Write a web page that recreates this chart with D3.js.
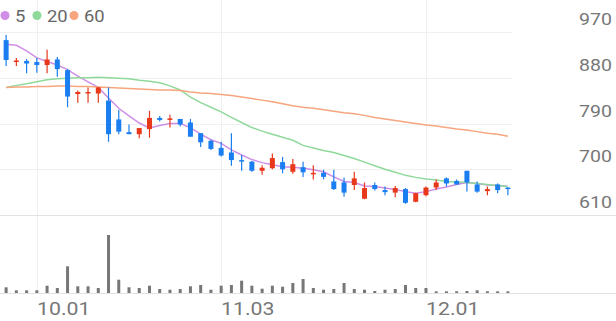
<!DOCTYPE html>
<html>
<head>
<meta charset="utf-8">
<script src="https://cdn.jsdelivr.net/npm/d3@7"></script>
<style>
  body { margin: 0; background: #fff; }
  svg { display: block; font-family: Roboto, sans-serif; }
</style>
</head>
<body>
<div id="chart"></div>
<script>
// trading days shown on the chart
var dates = ["09.26","09.29","09.30","10.01","10.02","10.10","10.13","10.14","10.15","10.16",
  "10.17","10.20","10.21","10.22","10.23","10.24","10.27","10.28","10.29","10.30",
  "10.31","11.03","11.04","11.05","11.06","11.07","11.10","11.11","11.12","11.13",
  "11.14","11.17","11.18","11.19","11.20","11.21","11.24","11.25","11.26","11.27",
  "11.28","12.01","12.02","12.03","12.04","12.05","12.08","12.09","12.10","12.11"];
var open  = [954,911,913,911,905,916,895,848,851,849,835,798,773,769,779,801,799,799,792,771,
  756,742,733,718,715,697,702,714,695,704,690,693,676,674,669,642,669,659,654,661,
  636,649,664,682,677,697,670,657,670,664];
var high  = [964,919,917,919,935,921,897,855,861,862,861,817,788,781,815,805,807,799,799,771,
  758,754,771,728,716,708,731,724,720,715,708,699,699,684,695,674,674,666,667,663,
  654,666,680,684,680,697,676,666,672,664];
var low   = [903,903,889,890,889,882,822,831,831,831,754,769,769,761,762,794,782,784,764,744,
  738,725,707,697,695,689,700,692,691,685,680,680,659,646,659,641,658,649,645,632,
  635,647,659,666,670,656,654,649,653,649];
var close = [915,914,908,905,916,897,843,852,852,861,769,774,769,781,801,797,800,788,764,753,
  740,727,718,715,697,703,722,700,710,694,693,685,661,654,682,663,661,655,663,634,
  653,664,674,672,670,674,656,661,659,661];
var volume = [57,27,27,27,73,50,267,67,67,50,580,133,57,50,73,40,33,40,67,80,
  33,73,80,123,73,43,73,63,100,140,50,33,40,100,40,33,20,33,40,80,
  50,50,17,17,17,20,27,17,17,17];
var ma5  = [946,944,933,919,912,905,896,883,872,861,840,820,805,791,781,786,790,790,782,769,
  758,751,738,728,719,713,709,705,704,702,699,695,685,676,674,667,666,663,660,656,
  653,656,661,665,670,674,672,669,668,666];
var ma20 = [861,865,868,872,876,878,879,880,880,881,880,879,878,875,873,870,864,856,842,831,
  822,813,802,792,782,775,769,763,757,747,742,737,733,727,721,714,707,700,694,688,
  684,681,679,676,675,674,672,670,668,666];
var ma60 = [861,862,862,863,863,864,864,863,863,862,861,860,859,858,857,856,856,855,852,850,
  849,847,845,842,839,836,833,829,825,822,820,817,814,811,809,806,802,799,796,793,
  790,787,785,782,779,777,774,771,769,765];
var priceTicks = [970,880,790,700,610];
var dateTicks = ["10.01","11.03","12.01"];
var maNames = ["5","20","60"];
var maColors = ["#cf8fe6","#8fd99b","#f7a57e"];

var W = 616, H = 321;
var plotRight = 512;
var upColor = "#e8381b", downColor = "#1a7ef0";

var svg = d3.select("#chart").append("svg")
  .attr("width", W).attr("height", H);

var x = d3.scaleBand().domain(d3.range(dates.length)).range([1, plotRight + 1]);
var cx = function(i) { return x(i) + x.bandwidth() / 2; };
var y = d3.scaleLinear().domain([610, 970]).range([215, 32]);
var yv = d3.scaleLinear().domain([0, 750]).range([293, 218]);

// stretched text helper, the reference font is a bit wide
function label(g, tx, ty, str, size, anchor, color) {
  g.append("g")
    .attr("transform", "translate(" + tx + "," + ty + ") scale(1.15,1)")
    .append("text")
    .attr("text-anchor", anchor)
    .attr("font-size", size)
    .attr("fill", color)
    .text(str);
}

// grid
var grid = svg.append("g");
priceTicks.slice(0, 4).forEach(function(p) {
  grid.append("line")
    .attr("x1", 0).attr("x2", plotRight)
    .attr("y1", Math.round(y(p)) + 0.5).attr("y2", Math.round(y(p)) + 0.5)
    .attr("stroke", "#f0f0f0");
});
dateTicks.forEach(function(d) {
  var xi = Math.round(cx(dates.indexOf(d))) + 0.5;
  grid.append("line")
    .attr("x1", xi).attr("x2", xi).attr("y1", 0).attr("y2", 293)
    .attr("stroke", "#f0f0f0");
});
[Math.round(y(610)) + 0.5, 293.5].forEach(function(yy) {
  grid.append("line")
    .attr("x1", 0).attr("x2", W).attr("y1", yy).attr("y2", yy)
    .attr("stroke", "#e2e2e2");
});

// axis labels
var axisG = svg.append("g");
priceTicks.forEach(function(p) {
  label(axisG, 612, Math.round(y(p)) - 7, p, 17, "end", "#777");
});
dateTicks.forEach(function(d) {
  label(axisG, Math.round(cx(dates.indexOf(d))), 315, d, 18.5, "start", "#777");
});

// volume
svg.append("g").selectAll("rect")
  .data(volume)
  .enter().append("rect")
    .attr("x", function(d, i) { return cx(i) - 1.5; })
    .attr("y", function(d) { return yv(d); })
    .attr("width", 3)
    .attr("height", function(d) { return 293 - yv(d); })
    .attr("fill", "#777");

// moving averages
[ma5, ma20, ma60].forEach(function(arr, k) {
  var line = d3.line()
    .x(function(d, i) { return cx(i); })
    .y(function(d) { return y(d); });
  svg.append("path")
    .datum(arr)
    .attr("d", line)
    .attr("fill", "none")
    .attr("stroke", maColors[k])
    .attr("stroke-width", 1.5);
});

// candles
var candles = svg.append("g").selectAll("g")
  .data(d3.range(dates.length))
  .enter().append("g");
candles.append("line")
  .attr("x1", function(i) { return cx(i); })
  .attr("x2", function(i) { return cx(i); })
  .attr("y1", function(i) { return y(high[i]); })
  .attr("y2", function(i) { return y(low[i]); })
  .attr("stroke", function(i) { return close[i] > open[i] ? upColor : downColor; })
  .attr("stroke-width", 1.2);
candles.append("rect")
  .attr("x", function(i) { return cx(i) - 2.5; })
  .attr("y", function(i) { return y(Math.max(open[i], close[i])); })
  .attr("width", 5)
  .attr("height", function(i) { return Math.max(1.5, Math.abs(y(open[i]) - y(close[i]))); })
  .attr("fill", function(i) { return close[i] > open[i] ? upColor : downColor; });

// legend
var legend = svg.append("g");
var lx = [5, 37, 74];
maNames.forEach(function(n, k) {
  legend.append("circle")
    .attr("cx", lx[k]).attr("cy", 15.5).attr("r", 4.5)
    .attr("fill", maColors[k]);
  label(legend, lx[k] + 10, 21.5, n, 16, "start", "#666");
});
</script>
</body>
</html>
